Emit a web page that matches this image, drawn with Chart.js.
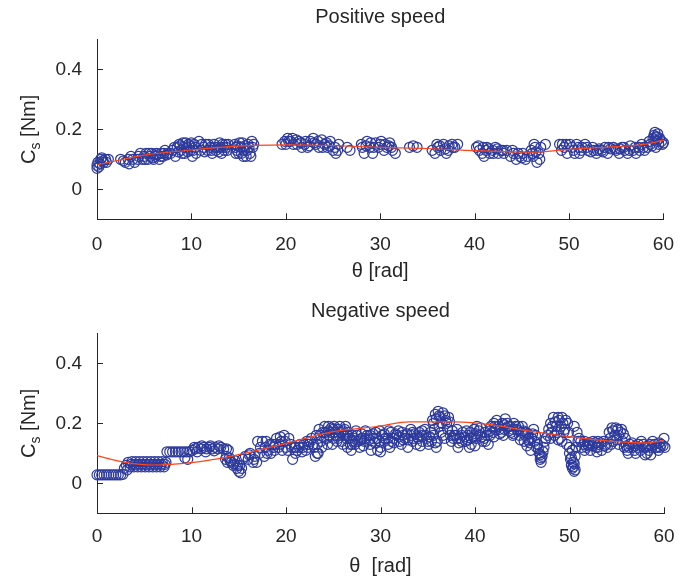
<!DOCTYPE html>
<html>
<head>
<meta charset="utf-8">
<script src="https://cdn.jsdelivr.net/npm/chart.js@4.4.1/dist/chart.umd.min.js"></script>
<style>
  body { margin: 0; background: #fff; }
  canvas { position: absolute; left: 0; }
  #posChart { top: 0; }
  #negChart { top: 290px; }
</style>
</head>
<body>
<canvas id="posChart" width="688" height="290"></canvas>
<canvas id="negChart" width="688" height="289"></canvas>
<script>
// --- data: [theta (rad), Cs (Nm)] ---
const xTicks = [0, 10, 20, 30, 40, 50, 60];
const yTicks = [0, 0.2, 0.4];

const posPoints = [
  [0,0.07],[0,0.08],[0.1,0.09],[0.2,0.075],[0.4,0.10],[0.6,0.095],[0.9,0.10],[1.2,0.10],
  [0.3,0.085],[0.5,0.105],[0.7,0.09],[1.0,0.09],
  [2.5,0.10],[3.0,0.09],[3.3,0.10],[3.6,0.11],[4.0,0.09],[4.3,0.10],[4.6,0.12],
  [2.8,0.095],[3.4,0.085],[3.8,0.10],[4.4,0.11],
  [4.8,0.10],[5.0,0.11],[5.2,0.12],[5.4,0.10],[5.6,0.11],[5.8,0.12],[6.0,0.10],[6.2,0.11],
  [6.4,0.115],[6.6,0.10],[6.8,0.12],[7.0,0.11],[7.2,0.13],[7.5,0.12],
  [5.1,0.10],[5.5,0.12],[5.9,0.105],[6.3,0.12],[6.7,0.11],[7.1,0.12],[7.4,0.115],
  [7.8,0.12],[8.0,0.13],[8.3,0.11],[8.5,0.14],[8.7,0.15],[8.9,0.13],[9.1,0.155],[9.3,0.12],
  [9.5,0.14],[9.7,0.15],[9.9,0.13],[10.1,0.11],[10.3,0.15],[10.5,0.12],
  [8.2,0.14],[8.6,0.125],[8.8,0.145],[9.0,0.12],[9.2,0.14],[9.4,0.155],[9.6,0.125],[9.8,0.145],
  [10.0,0.155],[10.2,0.13],[10.4,0.14],
  [10.8,0.16],[11.0,0.13],[11.3,0.14],[11.5,0.15],[11.7,0.13],[12.0,0.14],[12.2,0.12],
  [12.4,0.15],[12.6,0.13],[12.8,0.14],[13.0,0.155],[13.2,0.12],[13.4,0.14],[13.6,0.15],[13.8,0.13],
  [11.1,0.15],[11.4,0.125],[11.8,0.15],[12.1,0.13],[12.5,0.14],[12.9,0.125],[13.1,0.14],[13.3,0.15],
  [13.5,0.13],[13.7,0.14],[13.9,0.15],
  [14.6,0.15],[14.8,0.13],[14.9,0.145],[15.0,0.12],[15.2,0.14],[15.4,0.155],[15.5,0.11],[15.6,0.13],
  [15.8,0.11],[16.0,0.15],[16.2,0.12],[16.4,0.16],[16.5,0.14],
  [14.7,0.14],[15.1,0.155],[15.3,0.12],[15.7,0.145],[15.9,0.13],[16.1,0.14],[16.3,0.11],[16.6,0.15],[14.7,0.12],
  [19.6,0.15],[19.9,0.16],[20.2,0.17],[20.5,0.16],[20.8,0.15],[21.1,0.165],[21.4,0.16],[21.7,0.14],[22.0,0.15],
  [22.3,0.14],[22.6,0.16],[22.9,0.17],[23.2,0.15],[23.5,0.14],[23.8,0.165],[24.1,0.15],[24.4,0.14],
  [24.7,0.16],[25.0,0.13],[25.3,0.12],[25.6,0.15],
  [20.0,0.15],[20.3,0.16],[20.7,0.17],[21.2,0.15],[21.6,0.155],[22.1,0.16],[22.5,0.145],[23.0,0.155],
  [23.4,0.16],[23.9,0.14],[24.3,0.155],[24.6,0.145],[25.2,0.14],[25.5,0.13],
  [26.5,0.14],[26.8,0.13],[28.0,0.15],[28.3,0.12],[28.6,0.16],[28.9,0.14],[29.2,0.12],[29.5,0.155],
  [29.8,0.14],[30.1,0.16],[30.4,0.13],[30.7,0.14],[31.0,0.155],[31.3,0.13],[31.6,0.12],
  [28.1,0.14],[28.5,0.145],[29.0,0.155],[29.3,0.14],[30.0,0.15],[30.5,0.15],[30.9,0.145],[31.2,0.14],
  [33.1,0.14],[33.5,0.145],[33.9,0.14],
  [35.5,0.13],[35.8,0.12],[36.1,0.14],[36.4,0.13],[36.7,0.15],[37.0,0.12],[37.3,0.145],[37.6,0.15],
  [37.9,0.14],[38.2,0.15],
  [36.0,0.15],[36.3,0.145],[36.9,0.135],[37.2,0.13],[37.7,0.14],
  [40.2,0.14],[40.5,0.13],[40.8,0.12],[41.0,0.11],[41.3,0.14],[41.6,0.12],[41.9,0.13],[42.2,0.14],
  [42.5,0.12],[42.8,0.13],[43.1,0.12],[43.4,0.13],
  [40.4,0.145],[40.9,0.14],[41.2,0.13],[41.5,0.135],[42.0,0.12],[42.4,0.135],[43.0,0.13],
  [43.8,0.11],[44.1,0.12],[44.4,0.10],[44.8,0.11],[45.1,0.12],[45.4,0.10],[46.0,0.13],[46.2,0.11],
  [46.4,0.14],[46.6,0.09],[46.8,0.12],[47.0,0.14],[47.5,0.15],
  [44.0,0.13],[44.6,0.12],[45.0,0.105],[45.6,0.11],[46.1,0.12],[46.3,0.15],[46.5,0.125],[46.9,0.10],
  [49.0,0.15],[49.2,0.13],[49.5,0.14],[49.8,0.12],[50.1,0.15],[50.5,0.13],[50.8,0.15],[51.1,0.12],
  [51.4,0.14],[51.7,0.15],[52.0,0.13],
  [49.3,0.15],[49.7,0.15],[50.3,0.14],[50.6,0.12],[51.0,0.14],[51.3,0.13],[51.9,0.14],
  [52.3,0.125],[52.6,0.13],[52.9,0.12],[53.2,0.135],[53.5,0.13],[53.8,0.14],[54.1,0.12],[54.4,0.135],[54.7,0.14],
  [55.0,0.13],[55.3,0.12],[55.6,0.14],[55.9,0.13],[56.2,0.12],[56.5,0.145],[56.8,0.13],[57.1,0.12],
  [57.4,0.14],[57.7,0.15],[58.0,0.13],
  [52.5,0.14],[53.0,0.13],[53.6,0.125],[54.2,0.14],[54.9,0.135],[55.4,0.135],[55.8,0.14],[56.4,0.13],
  [57.0,0.14],[57.5,0.13],[57.9,0.14],
  [58.3,0.14],[58.6,0.15],[58.9,0.17],[59.0,0.18],[59.1,0.19],[59.2,0.175],[59.2,0.14],[59.3,0.16],
  [59.4,0.185],[59.5,0.15],[59.8,0.16],[60.0,0.155],
  [58.5,0.16],[58.8,0.145],[59.1,0.165],[59.3,0.175],[59.6,0.17],[59.9,0.15]
];
const posFitTheta = [0, 5, 10, 13, 20, 25, 30, 35, 40, 46, 50, 55, 58, 60];
const posFitCs = [0.081, 0.114, 0.131, 0.14, 0.148, 0.146, 0.14, 0.136, 0.129, 0.124, 0.133, 0.142, 0.15, 0.164];

const negPoints = [
  [0,0.028],[0.25,0.028],[0.5,0.028],[0.75,0.028],[1.0,0.028],[1.25,0.028],[1.5,0.028],[1.75,0.028],
  [2.0,0.028],[2.25,0.028],[2.5,0.028],[2.75,0.03],
  [2.9,0.05],[3.1,0.06],[3.3,0.07],[3.5,0.055],[3.7,0.072],[3.9,0.055],[4.1,0.072],[4.3,0.055],
  [4.5,0.072],[4.7,0.055],[4.9,0.072],[5.1,0.055],[5.3,0.072],[5.5,0.055],[5.7,0.072],[5.9,0.055],
  [6.1,0.072],[6.3,0.055],[6.5,0.072],[6.7,0.055],[6.9,0.072],[7.1,0.055],[7.3,0.07],
  [3.2,0.045],[3.6,0.063],[4.0,0.063],[4.4,0.063],[4.8,0.063],[5.2,0.063],[5.6,0.063],[6.0,0.063],
  [6.4,0.063],[6.8,0.063],[7.2,0.063],
  [7.4,0.105],[7.7,0.105],[8.0,0.105],[8.3,0.105],[8.6,0.105],[8.9,0.105],[9.2,0.105],[9.5,0.105],
  [9.8,0.105],[9.3,0.085],[9.6,0.08],
  [10.1,0.11],[10.4,0.115],[10.7,0.12],[11.0,0.115],[11.3,0.12],[11.6,0.115],[11.9,0.12],[12.2,0.115],
  [12.5,0.12],[12.8,0.115],[13.1,0.12],[13.4,0.115],[13.7,0.115],[10.6,0.105],[11.5,0.105],[12.4,0.108],
  [10.3,0.12],[11.1,0.125],[12.0,0.125],[12.9,0.125],[13.9,0.11],
  [13.6,0.08],[13.8,0.07],[14.0,0.085],[14.2,0.07],[14.4,0.06],[14.6,0.075],[14.8,0.05],[15.0,0.04],
  [15.1,0.06],[15.3,0.05],[15.4,0.08],
  [13.7,0.09],[14.1,0.075],[14.5,0.065],[14.9,0.06],[15.2,0.035],
  [15.7,0.09],[16.0,0.08],[16.2,0.10],[16.5,0.07],[16.7,0.09],[16.9,0.07],[17.0,0.14],[17.2,0.10],
  [17.5,0.14],[17.7,0.09],[17.9,0.14],[18.1,0.11],[18.4,0.10],[18.6,0.13],[18.8,0.11],[19.0,0.15],
  [19.2,0.12],[19.4,0.155],[19.6,0.11],[19.8,0.16],[20.0,0.12],
  [16.1,0.095],[16.6,0.08],[17.3,0.12],[17.8,0.12],[18.3,0.13],[18.9,0.13],[19.5,0.14],[20.3,0.15],
  [20.6,0.12],[21.0,0.10],[21.4,0.12],[21.9,0.13],[22.3,0.12],[22.6,0.14],[22.9,0.13],
  [18.0,0.10],[18.7,0.12],[19.3,0.13],[19.9,0.14],[21.0,0.12],[21.7,0.105],[22.2,0.14],
  [20.2,0.11],[20.5,0.13],[20.7,0.08],[20.9,0.12],[21.2,0.11],[21.5,0.13],[21.8,0.12],[22.1,0.11],
  [22.4,0.13],[22.7,0.15],[23.0,0.12],
  [23.2,0.16],[23.4,0.10],[23.5,0.18],[23.7,0.14],[23.9,0.17],[24.1,0.19],[24.3,0.15],[24.5,0.19],
  [24.7,0.17],[24.9,0.13],[25.1,0.19],[25.3,0.16],[25.5,0.18],[25.7,0.19],[25.9,0.14],[26.1,0.16],
  [26.3,0.19],[26.5,0.12],[26.7,0.15],[26.9,0.11],[27.1,0.14],
  [23.3,0.13],[23.6,0.16],[23.8,0.12],[24.0,0.155],[24.2,0.17],[24.4,0.13],[24.6,0.16],[24.8,0.185],
  [25.0,0.15],[25.2,0.17],[25.4,0.14],[25.6,0.16],[25.8,0.17],[26.0,0.13],[26.2,0.18],[26.4,0.15],
  [26.6,0.17],[26.8,0.13],[27.0,0.16],[23.1,0.09],[23.3,0.10],
  [24.5,0.175],[25.0,0.18],[25.5,0.15],[26.0,0.175],[26.5,0.16],[27.0,0.13],
  [27.3,0.13],[27.5,0.16],[27.8,0.12],[28.0,0.15],[28.3,0.14],[28.6,0.16],[28.9,0.13],[29.2,0.15],
  [29.5,0.17],[29.7,0.11],[29.9,0.14],[30.2,0.16],[30.5,0.15],[30.8,0.13],[31.1,0.17],[31.4,0.15],
  [31.7,0.16],[32.0,0.14],[32.3,0.17],[32.6,0.15],[32.9,0.12],
  [27.2,0.15],[27.6,0.14],[28.0,0.165],[28.4,0.15],[28.8,0.145],[29.2,0.165],[29.6,0.15],[30.0,0.12],
  [30.0,0.105],[30.4,0.165],[30.8,0.15],[31.2,0.14],[31.6,0.165],[32.0,0.155],[32.4,0.145],[32.8,0.165],
  [33.2,0.16],[33.6,0.165],[34.0,0.15],[34.4,0.14],[34.8,0.16],[35.2,0.155],[35.6,0.16],[28.2,0.125],
  [29.0,0.11],[31.0,0.12],[32.2,0.13],[33.4,0.14],[34.2,0.125],[35.1,0.13],
  [27.4,0.175],[27.9,0.145],[28.4,0.175],[28.9,0.16],[29.4,0.135],[29.9,0.175],[30.4,0.14],[30.9,0.175],
  [31.4,0.135],[31.9,0.175],[32.4,0.16],[32.9,0.145],[33.4,0.17],[33.9,0.155],[34.4,0.175],[34.9,0.15],[35.4,0.14],
  [33.2,0.18],[33.5,0.15],[33.8,0.13],[34.1,0.17],[34.4,0.16],[34.7,0.18],[35.0,0.14],[35.3,0.17],
  [35.5,0.21],[35.8,0.23],[36.1,0.24],[36.3,0.22],[36.6,0.235],[36.9,0.21],[37.2,0.22],[35.9,0.12],
  [36.0,0.14],[36.4,0.17],[36.8,0.15],[37.1,0.18],
  [35.6,0.2],[35.9,0.215],[36.2,0.225],[36.5,0.2],[36.8,0.225],[37.0,0.2],[37.3,0.205],[36.2,0.19],
  [35.7,0.18],[36.6,0.16],[35.8,0.135],[37.4,0.16],
  [37.5,0.14],[37.8,0.16],[38.1,0.18],[38.4,0.15],[38.7,0.17],[39.0,0.14],[39.3,0.16],[39.6,0.13],
  [39.9,0.18],[40.2,0.19],[40.5,0.16],[40.8,0.14],[41.1,0.17],[41.4,0.13],
  [37.7,0.15],[38.0,0.16],[38.3,0.135],[38.6,0.16],[38.9,0.155],[39.2,0.145],[39.5,0.17],[39.8,0.155],
  [40.1,0.15],[40.4,0.175],[40.7,0.155],[41.0,0.15],[41.3,0.16],[38.2,0.12],[39.4,0.12],[40.0,0.125],
  [37.6,0.175],[38.1,0.15],[38.6,0.14],[39.1,0.175],[39.6,0.15],[40.1,0.165],[40.6,0.185],[41.1,0.14],[41.6,0.175],
  [41.7,0.19],[42.0,0.20],[42.3,0.21],[42.6,0.18],[42.9,0.20],[43.2,0.215],[43.5,0.19],[43.8,0.17],
  [44.1,0.20],[44.4,0.18],[44.7,0.16],[45.0,0.19],
  [41.6,0.16],[41.9,0.17],[42.2,0.18],[42.5,0.19],[42.8,0.17],[43.1,0.18],[43.4,0.2],[43.7,0.19],
  [44.0,0.18],[44.3,0.19],[44.6,0.175],[44.9,0.17],[42.0,0.155],[43.0,0.16],[44.0,0.16],[44.8,0.145],
  [42.1,0.19],[42.6,0.165],[43.1,0.195],[43.6,0.175],[44.1,0.165],[44.6,0.19],[45.1,0.175],[45.6,0.145],[46.1,0.165],
  [45.2,0.14],[45.4,0.17],[45.7,0.15],[45.9,0.11],[46.2,0.18],[46.4,0.16],[46.6,0.13],[46.8,0.10],
  [46.9,0.08],[47.0,0.07],[47.1,0.09],[47.3,0.12],[47.5,0.15],
  [45.3,0.16],[45.6,0.165],[45.8,0.135],[46.0,0.15],[46.3,0.14],[46.5,0.12],[46.7,0.115],[46.9,0.095],
  [47.0,0.085],[47.2,0.105],[47.4,0.14],[45.5,0.125],
  [47.8,0.18],[48.0,0.20],[48.3,0.22],[48.6,0.19],[48.9,0.21],[49.2,0.22],[49.5,0.18],[49.8,0.20],
  [48.4,0.16],[49.0,0.15],[49.7,0.13],[50.0,0.10],[50.1,0.08],[50.2,0.06],[50.3,0.05],[50.4,0.07],
  [50.5,0.04],[50.6,0.09],[50.8,0.17],[51.0,0.15],[50.5,0.19],
  [47.7,0.16],[48.1,0.17],[48.2,0.19],[48.5,0.205],[48.7,0.17],[48.8,0.22],[49.1,0.19],[49.3,0.2],
  [49.4,0.17],[49.6,0.21],[49.9,0.17],[49.2,0.14],[50.0,0.12],[50.2,0.085],[50.3,0.11],[50.4,0.055],
  [50.5,0.065],[50.6,0.045],[50.7,0.12],[50.9,0.14],[48.0,0.15],[48.8,0.145],
  [51.3,0.12],[51.6,0.14],[51.9,0.13],[52.2,0.11],[52.5,0.14],[52.8,0.12],[53.1,0.13],[53.4,0.11],[53.7,0.125],
  [51.2,0.14],[51.5,0.13],[51.8,0.12],[52.1,0.135],[52.4,0.125],[52.7,0.135],[53.0,0.12],[53.3,0.135],
  [53.6,0.14],[53.9,0.13],[51.6,0.11],[52.9,0.105],[52.0,0.125],[53.0,0.14],[54.0,0.12],
  [54.2,0.17],[54.5,0.185],[54.8,0.16],[55.1,0.18],[55.4,0.17],[55.7,0.165],[54.6,0.14],[55.2,0.13],[55.8,0.12],
  [54.3,0.15],[54.6,0.175],[54.9,0.185],[55.2,0.16],[55.5,0.18],[55.0,0.145],[55.6,0.14],[54.4,0.13],[55.9,0.15],
  [56.1,0.11],[56.4,0.13],[56.7,0.12],[57.0,0.10],[57.3,0.13],[57.6,0.14],[57.9,0.12],[58.2,0.10],
  [58.5,0.13],[58.8,0.14],[59.1,0.12],[59.4,0.11],[59.7,0.13],[60.0,0.15],[60.1,0.12],
  [56.0,0.125],[56.3,0.12],[56.6,0.135],[56.9,0.11],[57.2,0.12],[57.5,0.11],[57.8,0.13],[58.1,0.12],
  [58.4,0.11],[58.7,0.12],[59.0,0.13],[59.3,0.12],[59.6,0.12],[59.9,0.125],[58.0,0.095],[58.6,0.095],
  [56.2,0.10],[57.0,0.125],[58.3,0.125],[59.5,0.135]
];
const negFitTheta = [0, 3, 6, 10, 14, 20, 25, 30, 33, 38, 42, 45, 50, 55, 58, 60];
const negFitCs = [0.092, 0.07, 0.061, 0.069, 0.089, 0.133, 0.172, 0.191, 0.205, 0.205, 0.194, 0.178, 0.155, 0.139, 0.135, 0.142];

const FONT = "'Liberation Sans', Arial, Helvetica, sans-serif";
const INK = '#262626';
const BLUE = '#2d3a9c';
const RED = '#ff4519';

Chart.defaults.font.family = FONT;
Chart.defaults.color = INK;

// titel + y-label (met subscript) + tickjes naar binnen
function decor(title, titleBase) {
  return {
    id: 'decor',
    afterDraw(chart) {
      const ctx = chart.ctx;
      const a = chart.chartArea;
      const xs = chart.scales.x, ys = chart.scales.y;
      ctx.save();
      ctx.strokeStyle = INK;
      ctx.lineWidth = 1;
      ctx.beginPath();
      xTicks.forEach(v => {
        if (v === 0) return;
        const px = Math.round(xs.getPixelForValue(v)) + 0.5;
        ctx.moveTo(px, a.bottom);
        ctx.lineTo(px, a.bottom - 6);
      });
      yTicks.forEach(v => {
        const py = Math.round(ys.getPixelForValue(v)) + 0.5;
        ctx.moveTo(a.left, py);
        ctx.lineTo(a.left + 6, py);
      });
      ctx.stroke();

      ctx.fillStyle = INK;
      ctx.font = '20px ' + FONT;
      ctx.textAlign = 'center';
      ctx.textBaseline = 'alphabetic';
      ctx.fillText(title, (a.left + a.right) / 2, titleBase);

      // C_s [Nm], gedraaid
      const big = '20px ' + FONT, small = '14px ' + FONT;
      ctx.font = big;
      const wC = ctx.measureText('C').width;
      const wRest = ctx.measureText(' [Nm]').width;
      ctx.font = small;
      const wS = ctx.measureText('s').width;
      const total = wC + wS + wRest;
      ctx.translate(35, (a.top + a.bottom) / 2);
      ctx.rotate(-Math.PI / 2);
      ctx.textAlign = 'left';
      let x0 = -total / 2;
      ctx.font = big;
      ctx.fillText('C', x0, 0);
      ctx.font = small;
      ctx.fillText('s', x0 + wC, 5);
      ctx.font = big;
      ctx.fillText(' [Nm]', x0 + wC + wS, 0);
      ctx.restore();
    }
  };
}

function buildChart(id, points, fitTheta, fitCs, opt) {
  return new Chart(document.getElementById(id), {
    type: 'scatter',
    data: {
      datasets: [
        {
          type: 'line',
          data: fitTheta.map((t, i) => ({ x: t, y: fitCs[i] })),
          borderColor: RED,
          borderWidth: 1.2,
          pointRadius: 0,
          tension: 0.4,
          cubicInterpolationMode: 'monotone',
          fill: false
        },
        {
          data: points.map(p => ({ x: p[0], y: p[1] })),
          borderColor: BLUE,
          backgroundColor: 'rgba(0,0,0,0)',
          pointRadius: 5,
          pointBorderWidth: 1.2,
          clip: false
        }
      ]
    },
    options: {
      responsive: false,
      animation: false,
      devicePixelRatio: 1,
      layout: { padding: { top: opt.top, right: 24, left: 0, bottom: 0 } },
      plugins: { legend: { display: false }, tooltip: { enabled: false } },
      scales: {
        x: {
          type: 'linear', min: 0, max: 60,
          grid: { display: false, drawTicks: false },
          border: { display: true, color: INK, width: 1 },
          ticks: { stepSize: 10, padding: opt.tickPad, font: { size: 19 }, color: INK },
          title: { display: true, text: opt.xTitle, font: { size: 20 }, color: INK, padding: { top: 0, bottom: opt.titlePad } },
          afterFit(s) { s.height = opt.xHeight; }
        },
        y: {
          type: 'linear', min: -0.1, max: 0.5,
          grid: { display: false, drawTicks: false },
          border: { display: true, color: INK, width: 1 },
          ticks: { padding: 15, font: { size: 19 }, color: INK },
          afterBuildTicks(s) { s.ticks = yTicks.map(v => ({ value: v })); },
          afterFit(s) { s.width = 97; }
        }
      }
    },
    plugins: [decor(opt.title, opt.titleBase)]
  });
}

buildChart('posChart', posPoints, posFitTheta, posFitCs, {
  title: 'Positive speed', titleBase: 22.5, top: 39.3, xHeight: 70.7,
  tickPad: 14, titlePad: 7, xTitle: '\u03b8 [rad]'
});
buildChart('negChart', negPoints, negFitTheta, negFitCs, {
  title: 'Negative speed', titleBase: 26.5, top: 43.3, xHeight: 65.7,
  tickPad: 12, titlePad: 1, xTitle: '\u03b8  [rad]'
});
</script>
</body>
</html>
